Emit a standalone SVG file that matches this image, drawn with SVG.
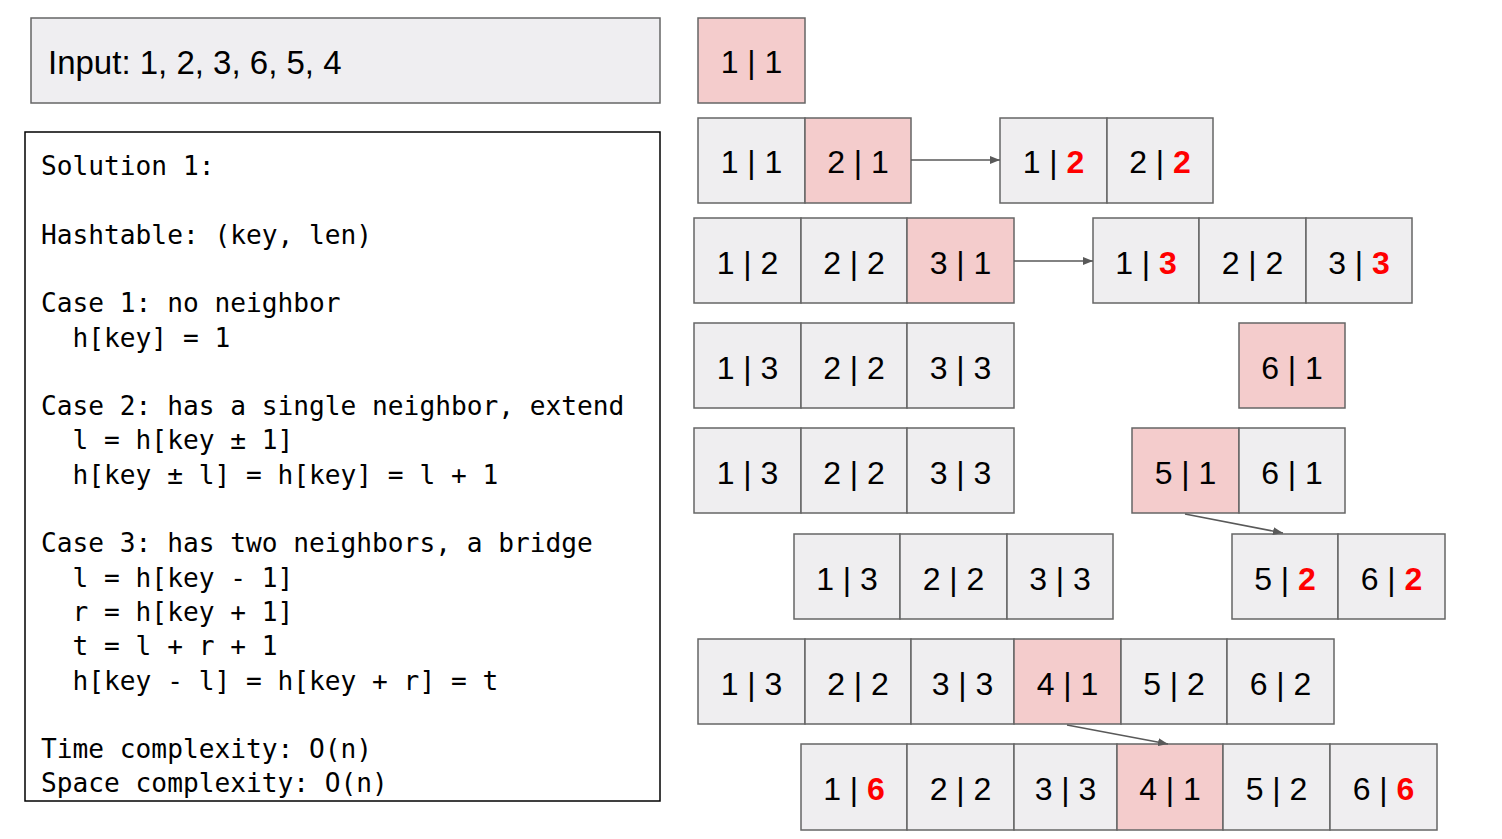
<svg xmlns="http://www.w3.org/2000/svg" width="1502" height="839" viewBox="0 0 1502 839">
<style>
.c{fill:#efeef0;stroke:#666;stroke-width:1.5}
.p{fill:#f4cccc;stroke:#666;stroke-width:1.5}
.t{font-family:"Liberation Sans",Arial,sans-serif;font-size:32px;fill:#000;text-anchor:middle}
.r{fill:#ff0000;font-weight:bold}
.code{font-family:"DejaVu Sans Mono","Liberation Mono",monospace;font-size:26.2px;fill:#000}
.a{stroke:#595959;stroke-width:1.5;fill:none;marker-end:url(#ah)}
</style>
<defs>
<marker id="ah" viewBox="0 0 10 10" refX="10" refY="5" markerWidth="10" markerHeight="8" markerUnits="userSpaceOnUse" orient="auto" preserveAspectRatio="none">
<path d="M0,0 L10,5 L0,10 z" fill="#595959"/>
</marker>
</defs>
<rect width="1502" height="839" fill="#fff"/>
<g id="input">
<rect x="31" y="18" width="629" height="85" fill="#efeef1" stroke="#666" stroke-width="1.5"/>
<text x="48" y="74" font-family="Liberation Sans,Arial,sans-serif" font-size="33">Input: 1, 2, 3, 6, 5, 4</text>
</g>
<g id="code">
<rect x="25" y="132" width="635" height="669" fill="#fff" stroke="#000" stroke-width="1.5"/>
<text class="code" xml:space="preserve"><tspan x="41" y="175">Solution 1:</tspan><tspan x="41" y="243.6">Hashtable: (key, len)</tspan><tspan x="41" y="312.2">Case 1: no neighbor</tspan><tspan x="41" y="346.5">  h[key] = 1</tspan><tspan x="41" y="415.1">Case 2: has a single neighbor, extend</tspan><tspan x="41" y="449.4">  l = h[key ± 1]</tspan><tspan x="41" y="483.7">  h[key ± l] = h[key] = l + 1</tspan><tspan x="41" y="552.3">Case 3: has two neighbors, a bridge</tspan><tspan x="41" y="586.6">  l = h[key - 1]</tspan><tspan x="41" y="620.9">  r = h[key + 1]</tspan><tspan x="41" y="655.2">  t = l + r + 1</tspan><tspan x="41" y="689.5">  h[key - l] = h[key + r] = t</tspan><tspan x="41" y="758.1">Time complexity: O(n)</tspan><tspan x="41" y="792.4">Space complexity: O(n)</tspan></text>
</g>
<g id="row1">
<rect class="p" x="698" y="18" width="107" height="85"/><text class="t" x="751.5" y="73">1 | 1</text>
</g>
<g id="row2a">
<rect class="c" x="698" y="118" width="107" height="85"/><text class="t" x="751.5" y="173">1 | 1</text>
<rect class="p" x="805" y="118" width="106" height="85"/><text class="t" x="858" y="173">2 | 1</text>
</g>
<g id="row2b">
<rect class="c" x="1000" y="118" width="107" height="85"/><text class="t" x="1053.5" y="173">1 | <tspan class="r">2</tspan></text>
<rect class="c" x="1107" y="118" width="106" height="85"/><text class="t" x="1160" y="173">2 | <tspan class="r">2</tspan></text>
</g>
<g id="row3a">
<rect class="c" x="694" y="218" width="107" height="85"/><text class="t" x="747.5" y="274">1 | 2</text>
<rect class="c" x="801" y="218" width="106" height="85"/><text class="t" x="854" y="274">2 | 2</text>
<rect class="p" x="907" y="218" width="107" height="85"/><text class="t" x="960.5" y="274">3 | 1</text>
</g>
<g id="row3b">
<rect class="c" x="1093" y="218" width="106" height="85"/><text class="t" x="1146" y="274">1 | <tspan class="r">3</tspan></text>
<rect class="c" x="1199" y="218" width="107" height="85"/><text class="t" x="1252.5" y="274">2 | 2</text>
<rect class="c" x="1306" y="218" width="106" height="85"/><text class="t" x="1359" y="274">3 | <tspan class="r">3</tspan></text>
</g>
<g id="row4a">
<rect class="c" x="694" y="323" width="107" height="85"/><text class="t" x="747.5" y="379">1 | 3</text>
<rect class="c" x="801" y="323" width="106" height="85"/><text class="t" x="854" y="379">2 | 2</text>
<rect class="c" x="907" y="323" width="107" height="85"/><text class="t" x="960.5" y="379">3 | 3</text>
</g>
<g id="row4b">
<rect class="p" x="1239" y="323" width="106" height="85"/><text class="t" x="1292" y="379">6 | 1</text>
</g>
<g id="row5a">
<rect class="c" x="694" y="428" width="107" height="85"/><text class="t" x="747.5" y="484">1 | 3</text>
<rect class="c" x="801" y="428" width="106" height="85"/><text class="t" x="854" y="484">2 | 2</text>
<rect class="c" x="907" y="428" width="107" height="85"/><text class="t" x="960.5" y="484">3 | 3</text>
</g>
<g id="row5b">
<rect class="p" x="1132" y="428" width="107" height="85"/><text class="t" x="1185.5" y="484">5 | 1</text>
<rect class="c" x="1239" y="428" width="106" height="85"/><text class="t" x="1292" y="484">6 | 1</text>
</g>
<g id="row6a">
<rect class="c" x="794" y="534" width="106" height="85"/><text class="t" x="847" y="590">1 | 3</text>
<rect class="c" x="900" y="534" width="107" height="85"/><text class="t" x="953.5" y="590">2 | 2</text>
<rect class="c" x="1007" y="534" width="106" height="85"/><text class="t" x="1060" y="590">3 | 3</text>
</g>
<g id="row6b">
<rect class="c" x="1232" y="534" width="106" height="85"/><text class="t" x="1285" y="590">5 | <tspan class="r">2</tspan></text>
<rect class="c" x="1338" y="534" width="107" height="85"/><text class="t" x="1391.5" y="590">6 | <tspan class="r">2</tspan></text>
</g>
<g id="row7">
<rect class="c" x="698" y="639" width="107" height="85"/><text class="t" x="751.5" y="695">1 | 3</text>
<rect class="c" x="805" y="639" width="106" height="85"/><text class="t" x="858" y="695">2 | 2</text>
<rect class="c" x="911" y="639" width="103" height="85"/><text class="t" x="962.5" y="695">3 | 3</text>
<rect class="p" x="1014" y="639" width="107" height="85"/><text class="t" x="1067.5" y="695">4 | 1</text>
<rect class="c" x="1121" y="639" width="106" height="85"/><text class="t" x="1174" y="695">5 | 2</text>
<rect class="c" x="1227" y="639" width="107" height="85"/><text class="t" x="1280.5" y="695">6 | 2</text>
</g>
<g id="row8">
<rect class="c" x="801" y="744" width="106" height="86"/><text class="t" x="854" y="800">1 | <tspan class="r">6</tspan></text>
<rect class="c" x="907" y="744" width="107" height="86"/><text class="t" x="960.5" y="800">2 | 2</text>
<rect class="c" x="1014" y="744" width="103" height="86"/><text class="t" x="1065.5" y="800">3 | 3</text>
<rect class="p" x="1117" y="744" width="106" height="86"/><text class="t" x="1170" y="800">4 | 1</text>
<rect class="c" x="1223" y="744" width="107" height="86"/><text class="t" x="1276.5" y="800">5 | 2</text>
<rect class="c" x="1330" y="744" width="107" height="86"/><text class="t" x="1383.5" y="800">6 | <tspan class="r">6</tspan></text>
</g>
<g id="connectors">
<line class="a" x1="911" y1="160" x2="1000" y2="160"/>
<line class="a" x1="1014" y1="261" x2="1093" y2="261"/>
<line class="a" x1="1185" y1="514" x2="1283" y2="533"/>
<line class="a" x1="1067" y1="725" x2="1168" y2="744"/>
</g>
</svg>
